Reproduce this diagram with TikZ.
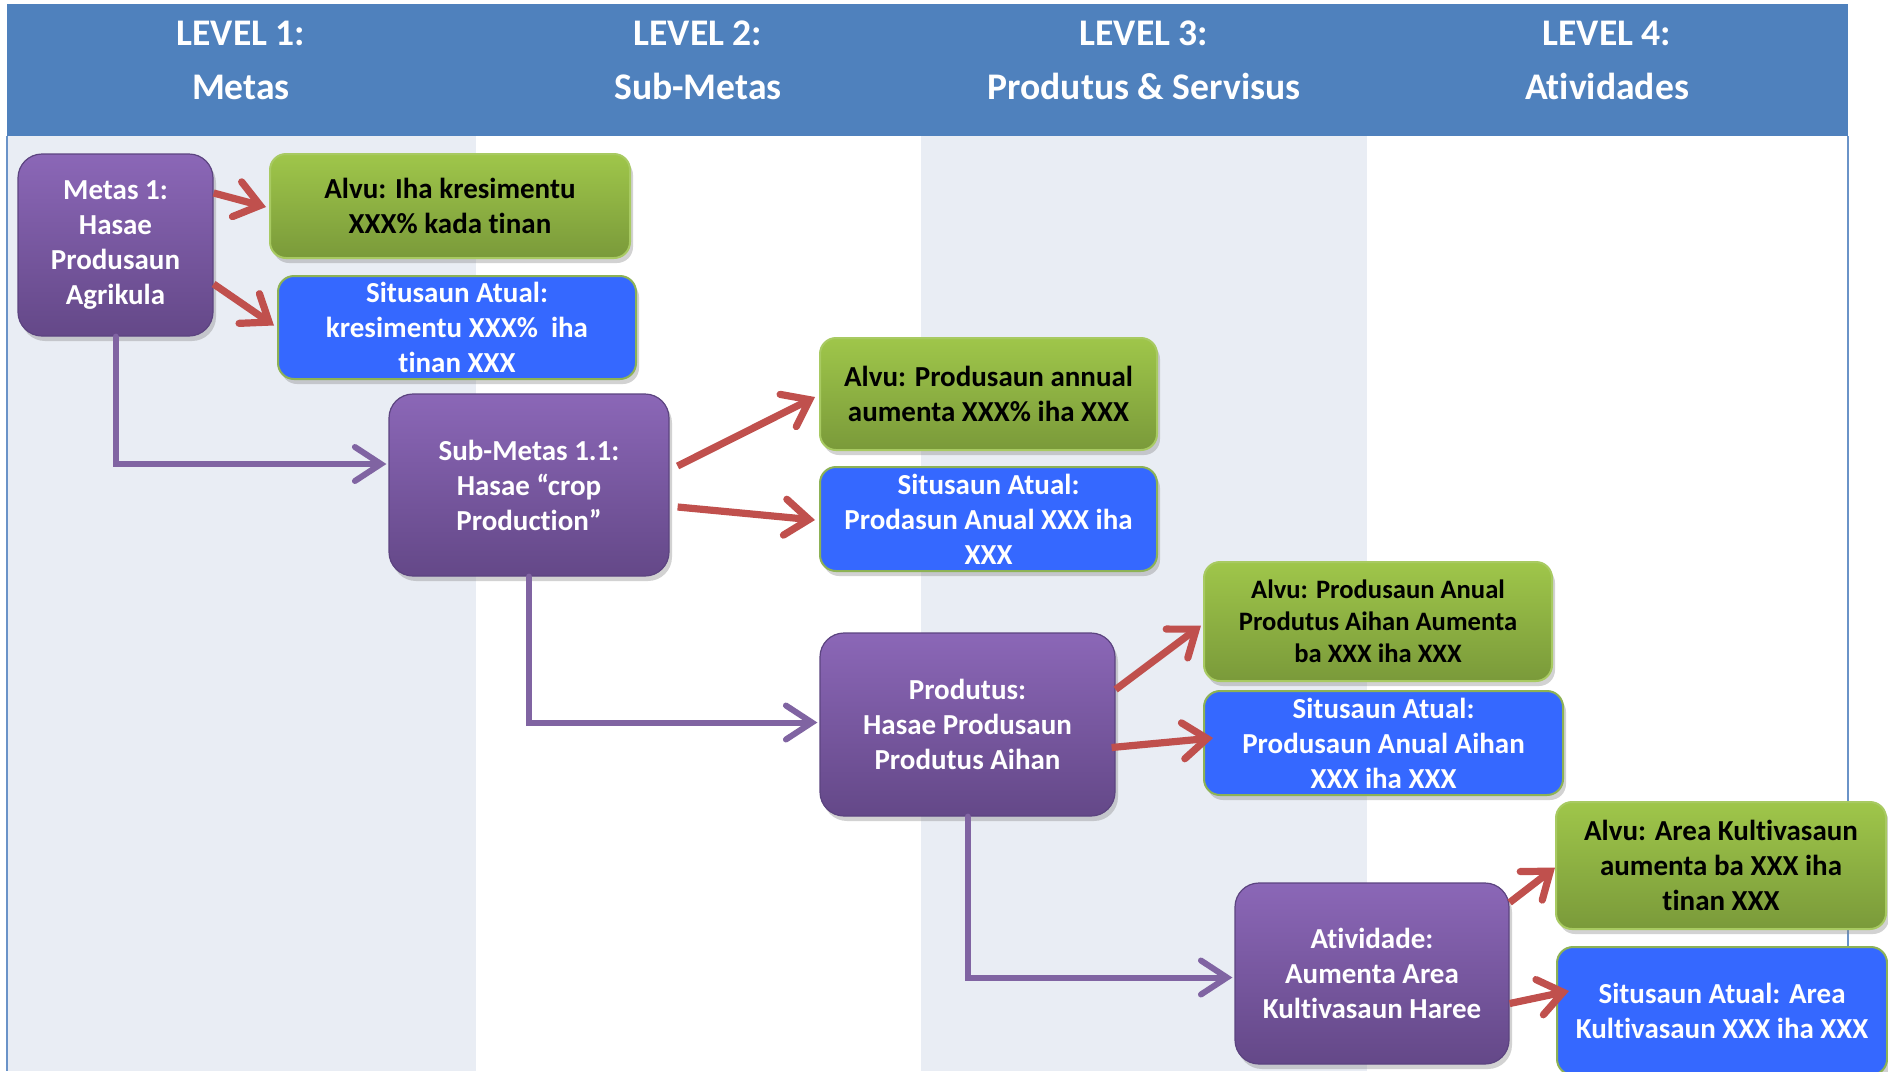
\documentclass[tikz,border=0pt]{standalone}
\usepackage{fontspec}
\setmainfont{Carlito}[Ligatures={NoCommon}]
\usetikzlibrary{arrows.meta,shadows,calc}
\definecolor{headblue}{HTML}{4F81BD}
\definecolor{colshade}{HTML}{E9EDF4}
\definecolor{framecol}{HTML}{6A93C8}
\definecolor{purptop}{HTML}{8B67B7}
\definecolor{purpbot}{HTML}{644888}
\definecolor{purpdark}{HTML}{5C4480}
\definecolor{greentop}{HTML}{9FC64A}
\definecolor{greenbot}{HTML}{7A9A3A}
\definecolor{greenborder}{HTML}{A8CA62}
\definecolor{boxblue}{HTML}{3568FF}
\definecolor{blueborder}{HTML}{8DB255}
\definecolor{redarr}{HTML}{C0504D}
\definecolor{purparr}{HTML}{8064A2}
\newcommand{\bodyfont}{\fontsize{14.5}{17.5}\selectfont\bfseries}
\newcommand{\headfont}{\fontsize{18.8}{27}\selectfont\bfseries}
\begin{document}
\begin{tikzpicture}[x=0.5pt,y=-0.5pt,
  boxbase/.style={inner sep=0pt, align=center, font=\bodyfont,
    drop shadow={opacity=0.35, shadow xshift=1.5pt, shadow yshift=-2.5pt}},
  purplebox/.style={boxbase, rounded corners=12pt, top color=purptop, bottom color=purpbot,
    draw=purpdark, line width=0.6pt, text=white},
  greenbox/.style={boxbase, rounded corners=8pt, top color=greentop, bottom color=greenbot,
    draw=greenborder, line width=1pt, text=black},
  bluebox/.style={boxbase, rounded corners=8pt, fill=boxblue,
    draw=blueborder, line width=1pt, text=white},
  headtext/.style={text=white, font=\headfont, align=center},
  parr/.style={draw=purparr, line width=3pt, line cap=round,
    -{Straight Barb[length=13pt,width=17pt,line cap=round]}},
  rarr/.style={draw=redarr, line width=3.6pt,
    -{Straight Barb[length=12pt,width=18pt,line cap=round]}}
]
\useasboundingbox (0,0) rectangle (1888,1071);
\fill[white] (0,0) rectangle (1888,1071);
% columns
\fill[colshade] (7,136) rectangle (476,1071);
\fill[colshade] (921,136) rectangle (1367,1071);
% header
\fill[headblue] (7,4) rectangle (1848,136);
\draw[framecol, line width=1pt] (7,136) -- (7,1071);
\draw[framecol, line width=1pt] (1848,136) -- (1848,1071);
\node[headtext] (h1) at (241,60) {LEVEL 1:\\Metas};
\node[headtext] (h2) at (698,60) {LEVEL 2:\\Sub-Metas};
\node[headtext] (h3) at (1144,60) {LEVEL 3:\\Produtus \& Servisus};
\node[headtext] (h4) at (1607,60) {LEVEL 4:\\Atividades};

% boxes
\node[purplebox, minimum width=97.5pt, minimum height=91pt] (metas) at (115.5,245)
  {Metas 1:\\Hasae\\Produsaun\\Agrikula};
\node[greenbox, minimum width=180pt, minimum height=52pt] (alvu1) at (450,206)
  {Alvu: Iha kresimentu\\XXX\% kada tinan};
\node[bluebox, minimum width=179pt, minimum height=51.5pt] (sit1) at (457,327.5)
  {Situsaun Atual:\\kresimentu XXX\%~ iha\\tinan XXX};
\node[purplebox, minimum width=140pt, minimum height=91pt] (sub) at (529,485)
  {Sub-Metas 1.1:\\Hasae “crop\\Production”};
\node[greenbox, minimum width=168.5pt, minimum height=56pt] (alvu2) at (988.5,394)
  {Alvu: Produsaun annual\\aumenta XXX\% iha XXX};
\node[bluebox, minimum width=168.5pt, minimum height=52pt] (sit2) at (988.5,519)
  {Situsaun Atual:\\Prodasun Anual XXX iha\\XXX};
\node[purplebox, minimum width=147.5pt, minimum height=91.5pt] (prod) at (967.5,724.5)
  {Produtus:\\Hasae Produsaun\\Produtus Aihan};
\node[greenbox, minimum width=174pt, minimum height=59.5pt, font=\fontsize{13.3}{16}\selectfont\bfseries] (alvu3) at (1378,621.5)
  {Alvu: Produsaun Anual\\Produtus Aihan Aumenta\\ba XXX iha XXX};
\node[bluebox, minimum width=179.5pt, minimum height=52pt] (sit3) at (1383.5,743)
  {Situsaun Atual:\\Produsaun Anual Aihan\\XXX iha XXX};
\node[purplebox, minimum width=137pt, minimum height=90.5pt] (ativ) at (1372,973.5)
  {Atividade:\\Aumenta Area\\Kultivasaun Haree};
\node[greenbox, minimum width=165pt, minimum height=63.5pt] (alvu4) at (1721,865.5)
  {Alvu: Area Kultivasaun\\aumenta ba XXX iha\\tinan XXX};
\node[bluebox, minimum width=165pt, minimum height=64pt] (sit4) at (1722,1011)
  {Situsaun Atual: Area\\Kultivasaun XXX iha XXX};

% purple connectors
\draw[parr] (metas.south) |- ($(sub.west)+(-2,-21)$);
\draw[parr] (sub.south) |- ($(prod.west)+(-2,-2)$);
\draw[parr] (prod.south) |- ($(ativ.west)+(-2,4)$);

% red arrows
\draw[rarr] ($(metas.east)+(0,-52)$) -- ($(alvu1.west)+(-3,1)$);
\draw[rarr] ($(metas.east)+(0,39)$) -- ($(sit1.west)+(-3,-2)$);
\draw[rarr] ($(sub.east)+(8,-19)$) -- ($(alvu2.west)+(-4,3)$);
\draw[rarr] ($(sub.east)+(8,22)$) -- ($(sit2.west)+(-4,1)$);
\draw[rarr] ($(prod.east)+(0,-35)$) -- ($(alvu3.west)+(-2,4)$);
\draw[rarr] ($(prod.east)+(-4,23)$) -- ($(sit3.west)+(10,-5)$);
\draw[rarr] ($(ativ.east)+(0,-71)$) -- ($(alvu4.west)+(0,2)$);
\draw[rarr] ($(ativ.east)+(0,30)$) -- ($(sit4.west)+(13,-20)$);
\end{tikzpicture}
\end{document}
